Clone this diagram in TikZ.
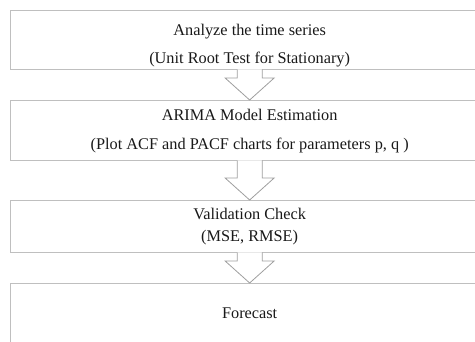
\documentclass[tikz,border=0pt]{standalone}
\usepackage{fontspec}
\setmainfont{Liberation Serif}
\usepackage{tikz}
\usetikzlibrary{calc}

\begin{document}
\begin{tikzpicture}[x=1pt, y=-1pt,
    stage/.style={draw=gray!50, line width=1.3pt, minimum width=478pt, inner sep=0pt,
        anchor=north west, align=center, text=black!90,
        font=\fontsize{16.3}{28}\selectfont},
    flowarrow/.style={draw=gray!75, line width=0.8pt, fill=white, line join=miter}]
    \useasboundingbox (0,0) rectangle (475,341);

    \node[stage, minimum height=59pt] (analyze) at (10,10)
        {\\[-6pt]Analyze the time series\\(Unit Root Test for Stationary)};
    \node[stage, minimum height=60pt, font=\fontsize{16.3}{29}\selectfont] (estimate) at (10,100)
        {ARIMA Model Estimation\\(Plot ACF and PACF charts for parameters p, q )};
    \node[stage, minimum height=52pt, font=\fontsize{16.3}{22}\selectfont] (validate) at (10,200)
        {Validation Check\\(MSE, RMSE)};
    \node[stage, minimum height=60pt] (forecast) at (10,283) {Forecast};

    \draw[flowarrow] ($(analyze.south)+(-12.5,-1)$) -- ($(estimate.north)+(-12.5,-22)$)
        -- ++(-12,0) -- (estimate.north) -- ++(24.5,-22) -- ++(-12,0)
        -- ($(analyze.south)+(12.5,-1)$);
    \draw[flowarrow] ($(estimate.south)+(-12.5,-1)$) -- ($(validate.north)+(-12.5,-22)$)
        -- ++(-12,0) -- (validate.north) -- ++(24.5,-22) -- ++(-12,0)
        -- ($(estimate.south)+(12.5,-1)$);
    \draw[flowarrow] ($(validate.south)+(-12.5,-1)$) -- ($(forecast.north)+(-12.5,-22)$)
        -- ++(-12,0) -- (forecast.north) -- ++(24.5,-22) -- ++(-12,0)
        -- ($(validate.south)+(12.5,-1)$);
\end{tikzpicture}
\end{document}
